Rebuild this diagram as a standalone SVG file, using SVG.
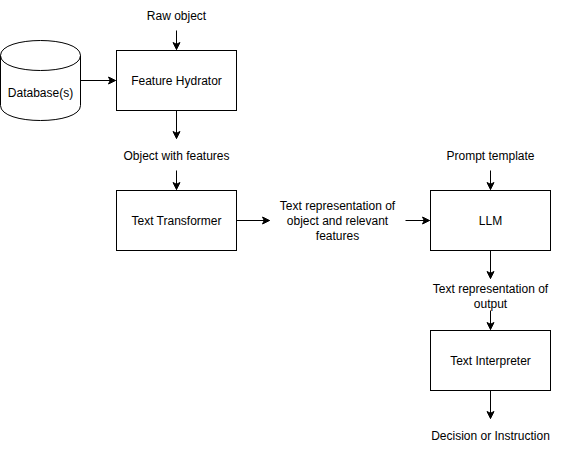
<svg xmlns="http://www.w3.org/2000/svg" width="566" height="451" viewBox="0 0 566 451">
<style>
.box{fill:#fff;stroke:#000;stroke-width:1}
.t{font-family:"Liberation Sans",Arial,Helvetica,sans-serif;font-size:12px;fill:#000;text-anchor:middle;dominant-baseline:central}
.c{fill:none;stroke:#000;stroke-width:1}
</style>
<defs>
<marker id="arr" markerWidth="10" markerHeight="10" viewBox="-8 -5 10 10" refX="0" refY="0" orient="auto" markerUnits="userSpaceOnUse">
<path d="M-7,-3.5 L0,0 L-7,3.5 L-5.25,0 Z" fill="#000" stroke="#000" stroke-width="1"/>
</marker>
</defs>
<rect width="566" height="451" fill="#fff"/>
<g transform="translate(0.5,0.5)">
<g id="connectors">
<path class="c" d="M176,30 L176,49" marker-end="url(#arr)"/>
<path class="c" d="M80,80 L115,80" marker-end="url(#arr)"/>
<path class="c" d="M176,110 L176,138" marker-end="url(#arr)"/>
<path class="c" d="M176,170 L176,189" marker-end="url(#arr)"/>
<path class="c" d="M236,220 L269,220" marker-end="url(#arr)"/>
<path class="c" d="M405,220 L429,220" marker-end="url(#arr)"/>
<path class="c" d="M490,170 L490,189" marker-end="url(#arr)"/>
<path class="c" d="M490,250 L490,278" marker-end="url(#arr)"/>
<path class="c" d="M490,310 L490,329" marker-end="url(#arr)"/>
<path class="c" d="M490,390 L490,418" marker-end="url(#arr)"/>
</g>
<g id="raw-object"><text class="t" x="176" y="15">Raw object</text></g>
<g id="database">
<path class="box" d="M0,55 C0,35 80,35 80,55 L80,105 C80,125 0,125 0,105 Z"/>
<path class="c" d="M0,55 C0,75 80,75 80,55"/>
<text class="t" x="40" y="92">Database(s)</text>
</g>
<g id="feature-hydrator">
<rect class="box" x="116" y="50" width="120" height="60"/>
<text class="t" x="176" y="80">Feature Hydrator</text>
</g>
<g id="object-with-features"><text class="t" x="176" y="155">Object with features</text></g>
<g id="text-transformer">
<rect class="box" x="116" y="190" width="120" height="60"/>
<text class="t" x="176" y="220">Text Transformer</text>
</g>
<g id="text-representation">
<text class="t" x="337" y="205">Text representation of</text>
<text class="t" x="337" y="220">object and relevant</text>
<text class="t" x="337" y="235">features</text>
</g>
<g id="prompt-template"><text class="t" x="490" y="155">Prompt template</text></g>
<g id="llm">
<rect class="box" x="430" y="190" width="120" height="60"/>
<text class="t" x="490" y="220">LLM</text>
</g>
<g id="text-representation-output">
<text class="t" x="490" y="288">Text representation of</text>
<text class="t" x="490" y="303">output</text>
</g>
<g id="text-interpreter">
<rect class="box" x="430" y="330" width="120" height="60"/>
<text class="t" x="490" y="360">Text Interpreter</text>
</g>
<g id="decision"><text class="t" x="490" y="435">Decision or Instruction</text></g>
</g>
</svg>
